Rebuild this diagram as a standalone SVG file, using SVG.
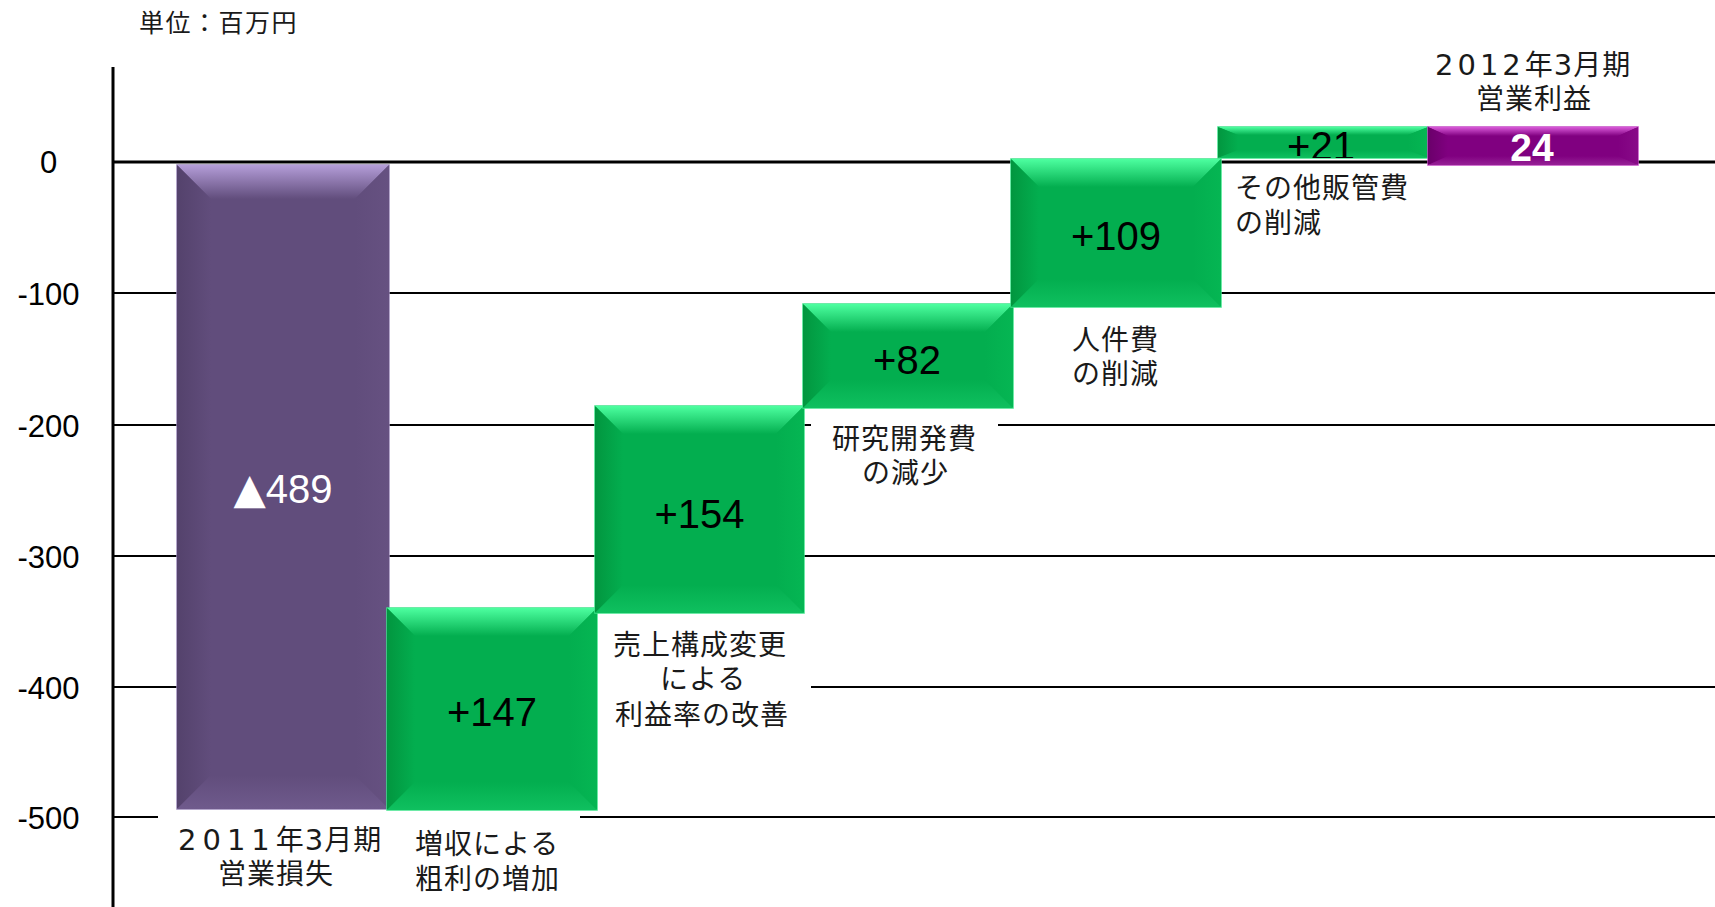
<svg xmlns="http://www.w3.org/2000/svg" width="1715" height="907" viewBox="0 0 1715 907">
<style>
.grid{stroke:#000;stroke-width:2;fill:none}
.axis{stroke:#000;stroke-width:3;fill:none}
.tick{font-family:"Liberation Sans",Arial,sans-serif;font-size:31px;fill:#000;text-anchor:middle}
.val{font-family:"Liberation Sans",Arial,"Noto Sans CJK JP",sans-serif;font-size:40px;fill:#000;text-anchor:middle}
.lbl{font-family:"Liberation Sans","Noto Sans CJK JP","Noto Sans CJK SC",sans-serif;font-size:28px;letter-spacing:1px;fill:#1a1a1a}
.dg{font-family:"DejaVu Sans",sans-serif;font-size:29px}
.g-base{fill:#03ae4f;stroke:#3fe38a;stroke-width:1.5}
.g-top{fill:url(#gTop)}
.g-left{fill:url(#gLeft)}
.g-right{fill:url(#gRight)}
.g-bot{fill:url(#gBot)}
.p-base{fill:#614d7c;stroke:#9c89ba;stroke-width:1.5}
.p-top{fill:url(#pTop)}
.p-left{fill:url(#pLeft)}
.p-right{fill:url(#pRight)}
.p-bot{fill:url(#pBot)}
.m-base{fill:#800080;stroke:#c34ac3;stroke-width:1.5}
.m-top{fill:url(#mTop)}
.m-left{fill:url(#mLeft)}
.m-right{fill:url(#mRight)}
.m-bot{fill:url(#mBot)}
</style>
<defs>
<linearGradient id="gTop" x1="0" y1="0" x2="0" y2="1"><stop offset="0" stop-color="#4dffa0"/><stop offset="1" stop-color="#03ae4f"/></linearGradient>
<linearGradient id="gLeft" x1="0" y1="0" x2="1" y2="0"><stop offset="0" stop-color="#02963f"/><stop offset="1" stop-color="#03ae4f"/></linearGradient>
<linearGradient id="gRight" x1="0" y1="0" x2="1" y2="0"><stop offset="0" stop-color="#03ae4f"/><stop offset="1" stop-color="#05b653"/></linearGradient>
<linearGradient id="gBot" x1="0" y1="0" x2="0" y2="1"><stop offset="0" stop-color="#03ae4f"/><stop offset="1" stop-color="#0fc05f"/></linearGradient>
<linearGradient id="pTop" x1="0" y1="0" x2="0" y2="1"><stop offset="0" stop-color="#b49dd8"/><stop offset="1" stop-color="#614d7c"/></linearGradient>
<linearGradient id="pLeft" x1="0" y1="0" x2="1" y2="0"><stop offset="0" stop-color="#54426c"/><stop offset="1" stop-color="#614d7c"/></linearGradient>
<linearGradient id="pRight" x1="0" y1="0" x2="1" y2="0"><stop offset="0" stop-color="#614d7c"/><stop offset="1" stop-color="#665181"/></linearGradient>
<linearGradient id="pBot" x1="0" y1="0" x2="0" y2="1"><stop offset="0" stop-color="#614d7c"/><stop offset="1" stop-color="#6f5a8c"/></linearGradient>
<linearGradient id="mTop" x1="0" y1="0" x2="0" y2="1"><stop offset="0" stop-color="#d95ad9"/><stop offset="1" stop-color="#800080"/></linearGradient>
<linearGradient id="mLeft" x1="0" y1="0" x2="1" y2="0"><stop offset="0" stop-color="#6a006a"/><stop offset="1" stop-color="#800080"/></linearGradient>
<linearGradient id="mRight" x1="0" y1="0" x2="1" y2="0"><stop offset="0" stop-color="#800080"/><stop offset="1" stop-color="#880a88"/></linearGradient>
<linearGradient id="mBot" x1="0" y1="0" x2="0" y2="1"><stop offset="0" stop-color="#800080"/><stop offset="1" stop-color="#962096"/></linearGradient>
<clipPath id="clip21"><rect x="1218" y="127" width="210" height="31"/></clipPath>
</defs>

<g id="axes">
<text x="139" y="32" class="lbl" style="font-size:25px;letter-spacing:1.5px">単位：百万円</text>
<line class="axis" x1="113" y1="67" x2="113" y2="907"/>
<line class="axis" x1="113" y1="162" x2="1715" y2="162"/>
<line class="grid" x1="113" y1="293" x2="1715" y2="293"/>
<line class="grid" x1="113" y1="425" x2="811" y2="425"/>
<line class="grid" x1="998" y1="425" x2="1715" y2="425"/>
<line class="grid" x1="113" y1="556" x2="1715" y2="556"/>
<line class="grid" x1="113" y1="687" x2="597" y2="687"/>
<line class="grid" x1="811" y1="687" x2="1715" y2="687"/>
<line class="grid" x1="113" y1="817" x2="158" y2="817"/>
<line class="grid" x1="580" y1="817" x2="1715" y2="817"/>
<text class="tick" x="48.5" y="173">0</text>
<text class="tick" x="48.5" y="305">-100</text>
<text class="tick" x="48.5" y="437">-200</text>
<text class="tick" x="48.5" y="568">-300</text>
<text class="tick" x="48.5" y="699">-400</text>
<text class="tick" x="48.5" y="829">-500</text>
</g>

<g id="connectors"></g>

<g id="bar-2011">
<rect class="p-base" x="177" y="165" width="212" height="644"/>
<polygon class="p-top" points="177,165 389,165 355,199 211,199"/>
<polygon class="p-left" points="177,165 211,199 211,775 177,809"/>
<polygon class="p-right" points="389,165 355,199 355,775 389,809"/>
<polygon class="p-bot" points="177,809 211,775 355,775 389,809"/>
<text class="val" x="283" y="503" style="fill:#fff"><tspan style="font-family:'DejaVu Sans',sans-serif;font-size:42px">▲</tspan>489</text>
<text class="lbl"><tspan x="178" y="850"><tspan class="dg" style="letter-spacing:6px">2011</tspan>年<tspan class="dg">3</tspan>月期</tspan><tspan x="218" y="884">営業損失</tspan></text>
</g>

<g id="bar-147">
<rect class="g-base" x="387" y="608" width="210" height="202"/>
<polygon class="g-top" points="387,608 597,608 569,636 415,636"/>
<polygon class="g-left" points="387,608 415,636 415,782 387,810"/>
<polygon class="g-right" points="597,608 569,636 569,782 597,810"/>
<polygon class="g-bot" points="387,810 415,782 569,782 597,810"/>
<text class="val" x="492" y="726">+147</text>
<text class="lbl"><tspan x="415" y="854">増収による</tspan><tspan x="415" y="889">粗利の増加</tspan></text>
</g>

<g id="bar-154">
<rect class="g-base" x="595" y="406" width="209" height="207"/>
<polygon class="g-top" points="595,406 804,406 776,434 623,434"/>
<polygon class="g-left" points="595,406 623,434 623,585 595,613"/>
<polygon class="g-right" points="804,406 776,434 776,585 804,613"/>
<polygon class="g-bot" points="595,613 623,585 776,585 804,613"/>
<text class="val" x="699.5" y="528">+154</text>
<text class="lbl"><tspan x="613" y="655">売上構成変更</tspan><tspan x="660" y="689">による</tspan><tspan x="615" y="725">利益率の改善</tspan></text>
</g>

<g id="bar-82">
<rect class="g-base" x="803" y="304" width="210" height="104"/>
<polygon class="g-top" points="803,304 1013,304 985,332 831,332"/>
<polygon class="g-left" points="803,304 831,332 831,380 803,408"/>
<polygon class="g-right" points="1013,304 985,332 985,380 1013,408"/>
<polygon class="g-bot" points="803,408 831,380 985,380 1013,408"/>
<text class="val" x="907" y="374">+82</text>
<text class="lbl"><tspan x="832" y="449">研究開発費</tspan><tspan x="862" y="483">の減少</tspan></text>
</g>

<g id="bar-109">
<rect class="g-base" x="1011" y="159" width="210" height="148"/>
<polygon class="g-top" points="1011,159 1221,159 1193,187 1039,187"/>
<polygon class="g-left" points="1011,159 1039,187 1039,279 1011,307"/>
<polygon class="g-right" points="1221,159 1193,187 1193,279 1221,307"/>
<polygon class="g-bot" points="1011,307 1039,279 1193,279 1221,307"/>
<text class="val" x="1116" y="250">+109</text>
<text class="lbl"><tspan x="1072" y="350">人件費</tspan><tspan x="1072" y="384">の削減</tspan></text>
</g>

<g id="bar-21">
<rect class="g-base" x="1218" y="127" width="210" height="31"/>
<polygon class="g-top" points="1218,127 1428,127 1408,135 1238,135"/>
<polygon class="g-left" points="1218,127 1238,135 1238,150 1218,158"/>
<polygon class="g-right" points="1428,127 1408,135 1408,150 1428,158"/>
<polygon class="g-bot" points="1218,158 1238,150 1408,150 1428,158"/>
<text class="val" x="1321" y="160" clip-path="url(#clip21)">+21</text>
<text class="lbl"><tspan x="1235" y="198">その他販管費</tspan><tspan x="1235" y="233">の削減</tspan></text>
</g>

<g id="bar-2012">
<rect class="m-base" x="1428" y="127" width="210" height="38"/>
<polygon class="m-top" points="1428,127 1638,127 1618,136 1448,136"/>
<polygon class="m-left" points="1428,127 1448,136 1448,156 1428,165"/>
<polygon class="m-right" points="1638,127 1618,136 1618,156 1638,165"/>
<polygon class="m-bot" points="1428,165 1448,156 1618,156 1638,165"/>
<text class="val" x="1532" y="161" style="fill:#fff;font-weight:bold;font-size:39px">24</text>
<text class="lbl"><tspan x="1435" y="75"><tspan class="dg" style="letter-spacing:4px">2012</tspan>年<tspan class="dg">3</tspan>月期</tspan><tspan x="1476" y="109">営業利益</tspan></text>
</g>
</svg>
